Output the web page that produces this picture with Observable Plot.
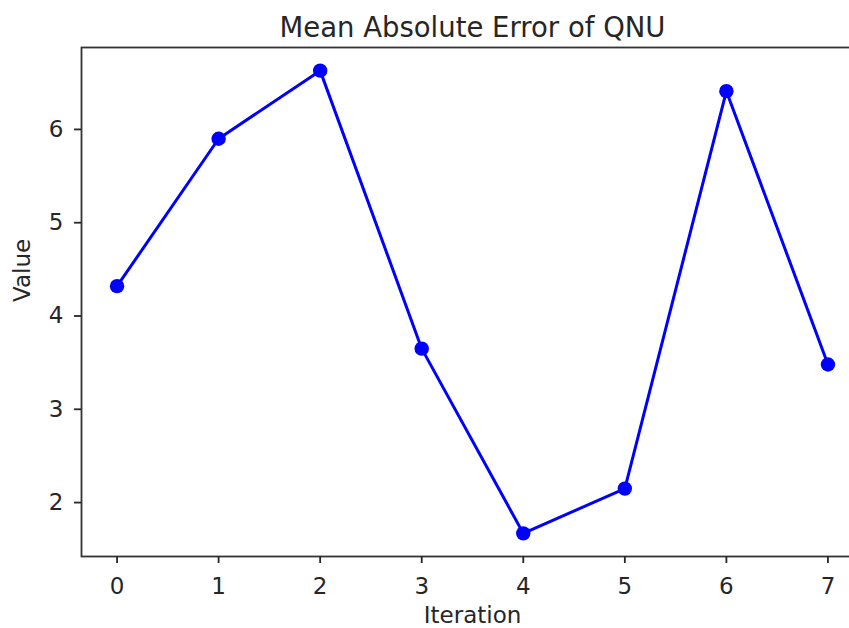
<!DOCTYPE html>
<html>
<head>
<meta charset="utf-8">
<script src="https://cdn.jsdelivr.net/npm/d3@7"></script>
<script src="https://cdn.jsdelivr.net/npm/@observablehq/plot@0.6"></script>
<style>
  html, body { margin: 0; padding: 0; background: #fff; overflow: hidden; }
  #chart { width: 849px; height: 628px; overflow: hidden; }
  #chart svg { max-width: none !important; }
</style>
</head>
<body>
<div id="chart"></div>
<script>
const iterations = [0, 1, 2, 3, 4, 5, 6, 7];
const values = [4.32, 5.90, 6.63, 3.65, 1.67, 2.15, 6.41, 3.48];
const yTicks = [2, 3, 4, 5, 6];
const titleText = "Mean Absolute Error of QNU";
const xLabel = "Iteration";
const yLabel = "Value";

const data = iterations.map((x, i) => ({x, y: values[i]}));

// matplotlib-style 5% margins
const xMin = d3.min(iterations), xMax = d3.max(iterations);
const xPad = (xMax - xMin) * 0.05;
const yMin = d3.min(values), yMax = d3.max(values);
const yPad = (yMax - yMin) * 0.05;

const font = "DejaVu Sans";
const ink = "#262626";

const chart = Plot.plot({
  width: 863,
  height: 628,
  marginLeft: 81,
  marginRight: 0,
  marginTop: 47,
  marginBottom: 72,
  style: {fontFamily: font, fontSize: "23px", color: ink, background: "#fff", maxWidth: "none"},
  x: {domain: [xMin - xPad, xMax + xPad], ticks: iterations, label: null},
  y: {domain: [yMin - yPad, yMax + yPad], ticks: yTicks, label: null},
  marks: [
    Plot.frame({stroke: "#333", strokeWidth: 1.8}),
    Plot.axisX({ticks: iterations, tickSize: 7, tickPadding: 14, strokeWidth: 1.8, fontSize: 23, label: null, tickFormat: d3.format("d")}),
    Plot.axisY({ticks: yTicks, tickSize: 7, tickPadding: 11, strokeWidth: 1.8, fontSize: 23, label: null, tickFormat: d3.format("d")}),
    Plot.line(data, {x: "x", y: "y", stroke: "#0000ff", strokeWidth: 3}),
    Plot.dot(data, {x: "x", y: "y", r: 7.2, fill: "#0000ff", stroke: "none"}),
    Plot.text([titleText], {frameAnchor: "top", dy: -19, fontSize: 27.5, fill: ink, lineAnchor: "middle"}),
    Plot.text([xLabel], {frameAnchor: "bottom", dy: 59, fontSize: 23, fill: ink, lineAnchor: "middle"}),
    Plot.text([yLabel], {frameAnchor: "left", dx: -59, rotate: -90, fontSize: 23, fill: ink, lineAnchor: "middle"})
  ]
});
document.getElementById("chart").appendChild(chart);
</script>
</body>
</html>
